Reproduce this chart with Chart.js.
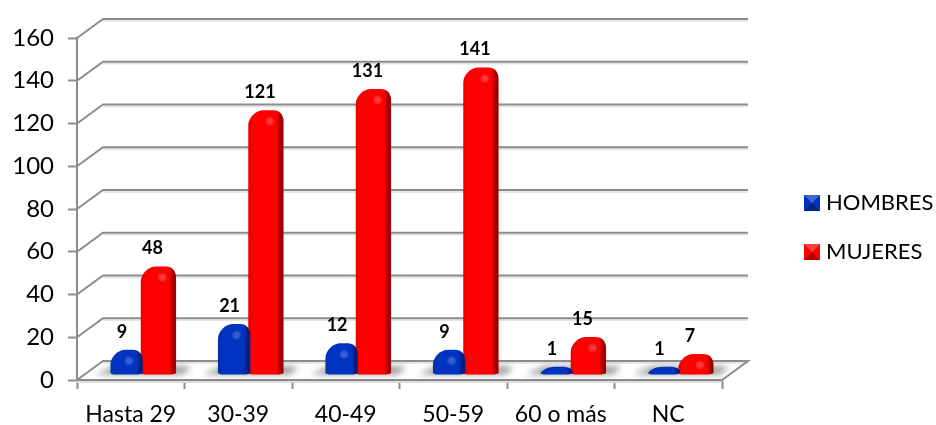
<!DOCTYPE html>
<html>
<head>
<meta charset="utf-8">
<title>Edades</title>
<script src="https://cdn.jsdelivr.net/npm/chart.js@4"></script>
<style>
html,body{margin:0;padding:0;background:#fff}
canvas{display:block}
</style>
</head>
<body>
<canvas id="chart" width="936" height="425"></canvas>
<script>
var categories = ['Hasta 29','30-39','40-49','50-59','60 o más','NC'];
var hombres = [9,21,12,9,1,1];
var mujeres = [48,121,131,141,15,7];
var yTicks = [0,20,40,60,80,100,120,140,160];

var fontName = 'Lato, Carlito, sans-serif';
var gridColor = '#8c8c8c';
//depth of the box, back wall relative to the front plane
var depthX = 26, depthY = -19;
//bars stand a bit behind the front plane
var barX = 11, barY = -5;

var blue = {left:'#0a30a8',mid:'#0033c0',right:'#001f7a',spot:'rgba(70,110,240,0.6)',shift:3};
var red = {left:'#e60000',mid:'#ff0000',right:'#a00000',spot:'rgba(255,110,110,0.55)',shift:0};

//walls and floor
var boxPlugin = {
    id:'box',
    beforeDatasetsDraw:function(chart){
        var ctx = chart.ctx, y = chart.scales.y, area = chart.chartArea;
        var left = area.left, right = area.right;
        ctx.save();
        //floor edge, light band under the front line
        ctx.strokeStyle = '#dcdcdc';
        ctx.lineWidth = 2;
        ctx.beginPath();
        ctx.moveTo(left,y.getPixelForValue(0)+2);
        ctx.lineTo(right,y.getPixelForValue(0)+2);
        ctx.stroke();
        yTicks.forEach(function(v){
            var py = y.getPixelForValue(v);
            ctx.strokeStyle = '#e2e2e2';
            ctx.lineWidth = 1.5;
            ctx.beginPath();
            ctx.moveTo(left+depthX,py+depthY+2);
            ctx.lineTo(right+depthX,py+depthY+2);
            ctx.stroke();
            ctx.strokeStyle = gridColor;
            ctx.lineWidth = 2;
            ctx.beginPath();
            ctx.moveTo(left,py);
            ctx.lineTo(left+depthX,py+depthY);
            ctx.lineTo(right+depthX,py+depthY);
            if(v === 0){
                ctx.lineTo(right,py);
                ctx.lineTo(left,py);
            }
            ctx.stroke();
        });
        ctx.beginPath();
        ctx.moveTo(left,y.getPixelForValue(160));
        ctx.lineTo(left,y.getPixelForValue(0));
        ctx.stroke();
        //soft shadow on the floor around each pair of bars
        var first = chart.getDatasetMeta(0).data, second = chart.getDatasetMeta(1).data;
        ctx.filter = 'blur(3px)';
        ctx.fillStyle = 'rgba(120,120,120,0.75)';
        first.forEach(function(bar,i){
            var l = bar.x-bar.width/2+barX+blue.shift, r = second[i].x+bar.width/2+barX;
            var b = bar.base+barY;
            ctx.beginPath();
            ctx.moveTo(l-16,b);
            ctx.lineTo(l+2,b-8);
            ctx.lineTo(r+16,b-8);
            ctx.lineTo(r+8,b);
            ctx.closePath();
            ctx.fill();
        });
        ctx.restore();
    }
};

//replaces the flat bars with rounded cylinders
var cylinderPlugin = {
    id:'cylinder',
    beforeDatasetDraw:function(chart,args){
        var ctx = chart.ctx;
        var colors = args.index === 0 ? blue : red;
        args.meta.data.forEach(function(bar){
            var L = bar.x-bar.width/2+barX-1+colors.shift, R = bar.x+bar.width/2+barX+1;
            var T = bar.y+barY-6, B = bar.base+barY;
            var h = B-T, s = Math.min(15,h);
            var grad = ctx.createLinearGradient(L,0,R,0);
            grad.addColorStop(0,colors.left);
            grad.addColorStop(0.12,colors.mid);
            grad.addColorStop(0.8,colors.mid);
            grad.addColorStop(0.92,colors.right);
            grad.addColorStop(1,colors.right);
            ctx.save();
            ctx.fillStyle = grad;
            ctx.beginPath();
            ctx.moveTo(L,B-2);
            ctx.lineTo(L,T+s);
            ctx.bezierCurveTo(L,T+s*0.45,L+8,T,L+15,T);
            ctx.lineTo(R-10,T);
            ctx.bezierCurveTo(R-4,T,R,T+s*0.3,R,T+s*0.75);
            ctx.lineTo(R,B-2);
            ctx.quadraticCurveTo(R,B,R-9,B);
            ctx.lineTo(L+6,B);
            ctx.quadraticCurveTo(L,B,L,B-2);
            ctx.closePath();
            ctx.fill();
            if(h > 14){
                var cx = bar.x+barX+4, cy = T+11;
                var spot = ctx.createRadialGradient(cx,cy,0,cx,cy,5);
                spot.addColorStop(0,colors.spot);
                spot.addColorStop(1,'rgba(255,255,255,0)');
                ctx.fillStyle = spot;
                ctx.fillRect(cx-5,cy-5,10,10);
            }
            ctx.restore();
        });
        return false;
    }
};

//value labels over the bars and the legend on the right
var labelPlugin = {
    id:'labels',
    afterDatasetsDraw:function(chart){
        var ctx = chart.ctx;
        ctx.save();
        ctx.fillStyle = '#000';
        ctx.font = 'bold 18px '+fontName;
        ctx.textAlign = 'center';
        ctx.textBaseline = 'middle';
        chart.data.datasets.forEach(function(ds,d){
            chart.getDatasetMeta(d).data.forEach(function(bar,i){
                ctx.fillText(ds.data[i],bar.x+barX-(d === 0 ? 3 : 6),bar.y+barY-24);
            });
        });
        ctx.font = '22px '+fontName;
        ctx.textAlign = 'left';
        chart.data.datasets.forEach(function(ds,d){
            var colors = d === 0 ? blue : red;
            var top = 195+d*49, x = 804, size = 16;
            ctx.fillStyle = colors.mid;
            ctx.fillRect(x,top,size,size);
            //pyramid look of the key
            ctx.fillStyle = 'rgba(255,255,255,0.25)';
            ctx.beginPath();
            ctx.moveTo(x,top);
            ctx.lineTo(x+size,top);
            ctx.lineTo(x+size/2,top+size/2);
            ctx.closePath();
            ctx.fill();
            ctx.fillStyle = 'rgba(0,0,0,0.3)';
            ctx.beginPath();
            ctx.moveTo(x,top+size);
            ctx.lineTo(x+size,top+size);
            ctx.lineTo(x+size/2,top+size/2);
            ctx.closePath();
            ctx.fill();
            ctx.fillStyle = '#000';
            ctx.fillText(ds.label,826,top+8);
        });
        ctx.restore();
    }
};

new Chart(document.getElementById('chart'),{
    type:'bar',
    data:{
        labels:categories,
        datasets:[
            {label:'HOMBRES',data:hombres,backgroundColor:blue.mid},
            {label:'MUJERES',data:mujeres,backgroundColor:red.mid}
        ]
    },
    options:{
        responsive:false,
        animation:false,
        layout:{padding:{left:0,right:214,top:38,bottom:0}},
        plugins:{legend:{display:false},tooltip:{enabled:false}},
        datasets:{bar:{categoryPercentage:0.62,barPercentage:1}},
        scales:{
            x:{
                grid:{drawOnChartArea:false,tickLength:9,tickColor:gridColor,tickWidth:2},
                border:{color:gridColor,width:2},
                ticks:{color:'#000',font:{family:fontName,size:23},padding:12,maxRotation:0},
                afterFit:function(scale){scale.height = 45;}
            },
            y:{
                min:0,max:160,
                grid:{drawOnChartArea:false,tickLength:9,tickColor:gridColor,tickWidth:2},
                border:{color:gridColor,width:2},
                ticks:{color:'#000',font:{family:fontName,size:24},padding:14,stepSize:20},
                afterFit:function(scale){scale.width = 77;}
            }
        }
    },
    plugins:[boxPlugin,cylinderPlugin,labelPlugin]
});
</script>
</body>
</html>
